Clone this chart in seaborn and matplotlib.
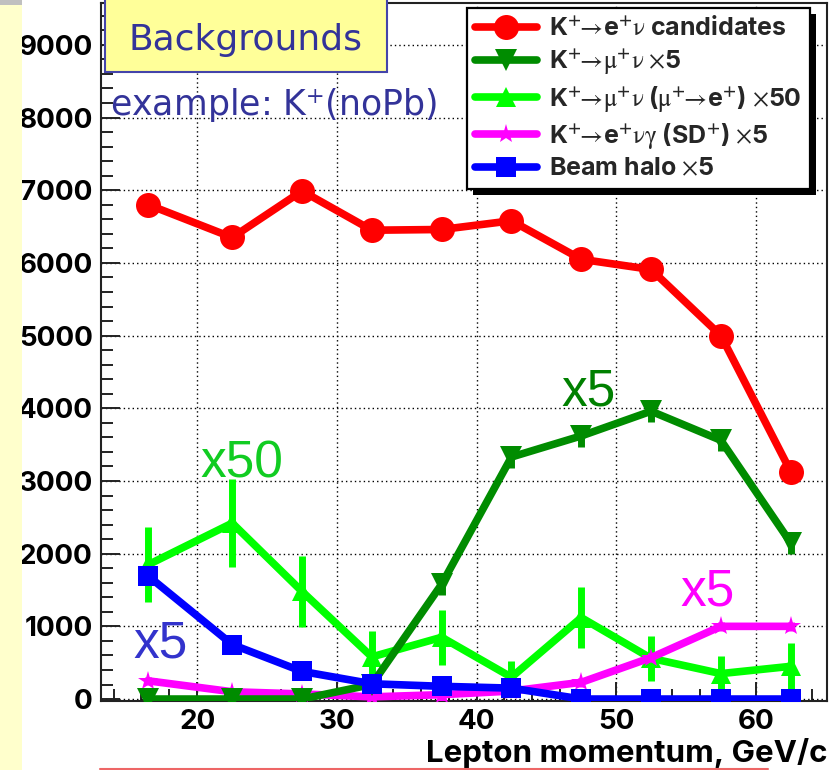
import matplotlib
matplotlib.use("Agg")
import matplotlib.pyplot as plt
import matplotlib.transforms as mtransforms
from matplotlib.patches import Rectangle
from matplotlib.lines import Line2D
from matplotlib.font_manager import FontProperties
from matplotlib.ticker import MultipleLocator
import pandas as pd
import seaborn as sns

# Bin centres of the lepton momentum spectrum (GeV/c)
momentum = [16.5, 22.5, 27.5, 32.5, 37.5, 42.5, 47.5, 52.5, 57.5, 62.5]

# Event counts per bin
ke2_candidates = [6800, 6350, 6990, 6450, 6460, 6580, 6050, 5910, 5000, 3130]
km2_x5 = [0, 0, 0, 200, 1580, 3330, 3620, 3960, 3560, 2150]
km2_x5_err = [0, 0, 0, 90, 150, 150, 150, 150, 150, 150]
km2_mudecay_x50 = [1850, 2420, 1480, 580, 850, 300, 1120, 560, 350, 450]
km2_mudecay_x50_err = [520, 610, 490, 350, 380, 220, 420, 310, 240, 320]
ke2g_sd_x5 = [250, 100, 70, 30, 60, 110, 230, 570, 1000, 1000]
ke2g_sd_x5_err = [60, 40, 40, 110, 110, 60, 60, 60, 60, 60]
beam_halo_x5 = [1690, 750, 380, 210, 175, 150, 0, 0, 0, 0]

legend_labels = [
    r"K$^{\mathbf{+}}\!\!\rightarrow\!$e$^{\mathbf{+}}\nu$ candidates",
    r"K$^{\mathbf{+}}\!\!\rightarrow\!\mu^{\mathbf{+}}\nu$ $\times$5",
    r"K$^{\mathbf{+}}\!\!\rightarrow\!\mu^{\mathbf{+}}\nu$ "
    r"($\mu^{\mathbf{+}}\!\!\rightarrow\!$e$^{\mathbf{+}}$) $\times$50",
    r"K$^{\mathbf{+}}\!\!\rightarrow\!$e$^{\mathbf{+}}\nu\gamma$ "
    r"(SD$^{\mathbf{+}}$) $\times$5",
    r"Beam halo $\times$5",
]
x_ticks = [20, 30, 40, 50, 60]
y_ticks = [0, 1000, 2000, 3000, 4000, 5000, 6000, 7000, 8000, 9000]

sns.set_theme(style="white")
plt.rcParams["font.family"] = ["Inter", "Liberation Sans", "DejaVu Sans"]
plt.rcParams["mathtext.fontset"] = "stix"
plt.rcParams["mathtext.default"] = "rm"

W, H = 835, 770
fig = plt.figure(figsize=(W / 100, H / 100), dpi=100)
fig.patch.set_facecolor("white")


def fx(px):
    return px / W


def fy(py):
    return 1 - py / H


ax = fig.add_axes([fx(101), fy(701), fx(827) - fx(101), fy(3) - fy(701)])
ax.set_facecolor("white")

series = [
    # values, errors, colour, marker, size, zorder
    (km2_mudecay_x50, km2_mudecay_x50_err, "#00ff00", "^", 14, 2),
    (ke2g_sd_x5, ke2g_sd_x5_err, "#ff00ff", "*", 15, 3),
    (km2_x5, km2_x5_err, "#008c00", "v", 16, 4),
    (beam_halo_x5, None, "#0000ff", "s", 15, 5),
    (ke2_candidates, None, "#ff0000", "o", 18, 6),
]

for vals, errs, col, mk, ms, z in series:
    df = pd.DataFrame({"p": momentum, "n": vals})
    sns.lineplot(data=df, x="p", y="n", ax=ax, color=col, marker=mk,
                 markersize=ms, markeredgewidth=0, linewidth=5.5,
                 zorder=z, legend=False, errorbar=None)
    if errs is not None:
        ax.errorbar(momentum, vals, yerr=errs, fmt="none", ecolor=col,
                    elinewidth=5, capsize=0, zorder=z)

ax.set_xlim(13.1, 65.1)
ax.set_ylim(-27, 9576)
ax.set_xlabel("")
ax.set_ylabel("")
ax.set_xticks(x_ticks)
ax.set_yticks(y_ticks)
ax.xaxis.set_minor_locator(MultipleLocator(2))
ax.yaxis.set_minor_locator(MultipleLocator(200))
ax.tick_params(axis="both", which="both", direction="in", color="#222222",
               top=False, right=False, bottom=True, left=True)
ax.tick_params(axis="both", which="major", length=14, width=1.4)
ax.tick_params(axis="both", which="minor", length=8.5, width=1.4)
ax.tick_params(axis="y", which="major", pad=6)
ax.tick_params(axis="x", which="major", pad=6)
tick_font = FontProperties(family=["Inter", "Liberation Sans"], weight="bold",
                           size=20)
for lab in ax.get_xticklabels() + ax.get_yticklabels():
    lab.set_fontproperties(tick_font)
    lab.set_color("black")
for sp in ax.spines.values():
    sp.set_visible(True)
    sp.set_color("#222222")
    sp.set_linewidth(1.5)
ax.grid(True, which="major", color="black", linestyle=(0, (1, 2.2)),
        linewidth=1.0)

# x-axis title, right-aligned under the frame
fig.text(fx(827), fy(762), "Lepton momentum, GeV/c", ha="right",
         va="baseline", fontproperties=FontProperties(
             family=["Inter", "Liberation Sans"], weight="bold", size=22.5),
         color="black")

# Legend with a hard drop shadow
handles = [
    Line2D([], [], color="#ff0000", marker="o", markersize=18,
           markeredgewidth=0, linewidth=5.5),
    Line2D([], [], color="#008c00", marker="v", markersize=16,
           markeredgewidth=0, linewidth=5.5),
    Line2D([], [], color="#00ff00", marker="^", markersize=14,
           markeredgewidth=0, linewidth=5.5),
    Line2D([], [], color="#ff00ff", marker="*", markersize=15,
           markeredgewidth=0, linewidth=5.5),
    Line2D([], [], color="#0000ff", marker="s", markersize=15,
           markeredgewidth=0, linewidth=5.5),
]
leg = ax.legend(handles, legend_labels, loc="upper left",
                bbox_to_anchor=(fx(467), fy(8)),
                bbox_transform=fig.transFigure, borderaxespad=0,
                prop=FontProperties(family=["Inter", "Liberation Sans"],
                                    weight="bold", size=18),
                frameon=True, fancybox=False, framealpha=1,
                edgecolor="black", facecolor="white",
                handlelength=2.45, handletextpad=0.5, labelspacing=0.28,
                borderpad=0.33)
leg.get_frame().set_linewidth(1.6)
leg.set_zorder(10)
fig.canvas.draw()
bb = leg.get_window_extent()
shadow = Rectangle((bb.x0 + 6, bb.y0 - 6), bb.width, bb.height,
                   transform=mtransforms.IdentityTransform(),
                   facecolor="black", edgecolor="none", zorder=9.9,
                   clip_on=False)
ax.add_artist(shadow)

# Title box and sample tag
fig.add_artist(Rectangle((fx(105), fy(72)), fx(387) - fx(105), fy(-5) - fy(72),
                         transform=fig.transFigure, facecolor="#ffff99",
                         edgecolor="#4444aa", linewidth=1.5, zorder=20))
fig.text(fx(246), fy(50), "Backgrounds", ha="center", va="baseline",
         family="DejaVu Sans", fontsize=26, color="#333399", zorder=21)
fig.text(fx(110), fy(115), r"example: K$^{+}$(noPb)", ha="left",
         va="baseline", family="DejaVu Sans", fontsize=25, color="#333399",
         zorder=21)

# Scale-factor tags next to the curves
tags = [
    ("x50", 200, 478, "#11cc22"),
    ("x5", 561, 405, "#008000"),
    ("x5", 680, 605, "#ff00ff"),
    ("x5", 133, 658, "#3333cc"),
]
for txt, px, py, col in tags:
    fig.text(fx(px), fy(py), txt, ha="left", va="baseline",
             family="Liberation Sans", fontsize=37, color=col, zorder=21)

# Page margin details
fig.add_artist(Rectangle((0, 0), fx(22), 1, transform=fig.transFigure,
                         facecolor="#ffffcc", edgecolor="none", zorder=19))
fig.add_artist(Rectangle((0, fy(5)), fx(22), fy(0) - fy(5),
                         transform=fig.transFigure, facecolor="#c0c0c0",
                         edgecolor="none", zorder=19))
fig.add_artist(Line2D([fx(100), fx(768)], [fy(768.5), fy(768.5)],
                      transform=fig.transFigure, color="#ee6666",
                      linewidth=1.5, zorder=19))

fig.savefig("out.png", dpi=100)
